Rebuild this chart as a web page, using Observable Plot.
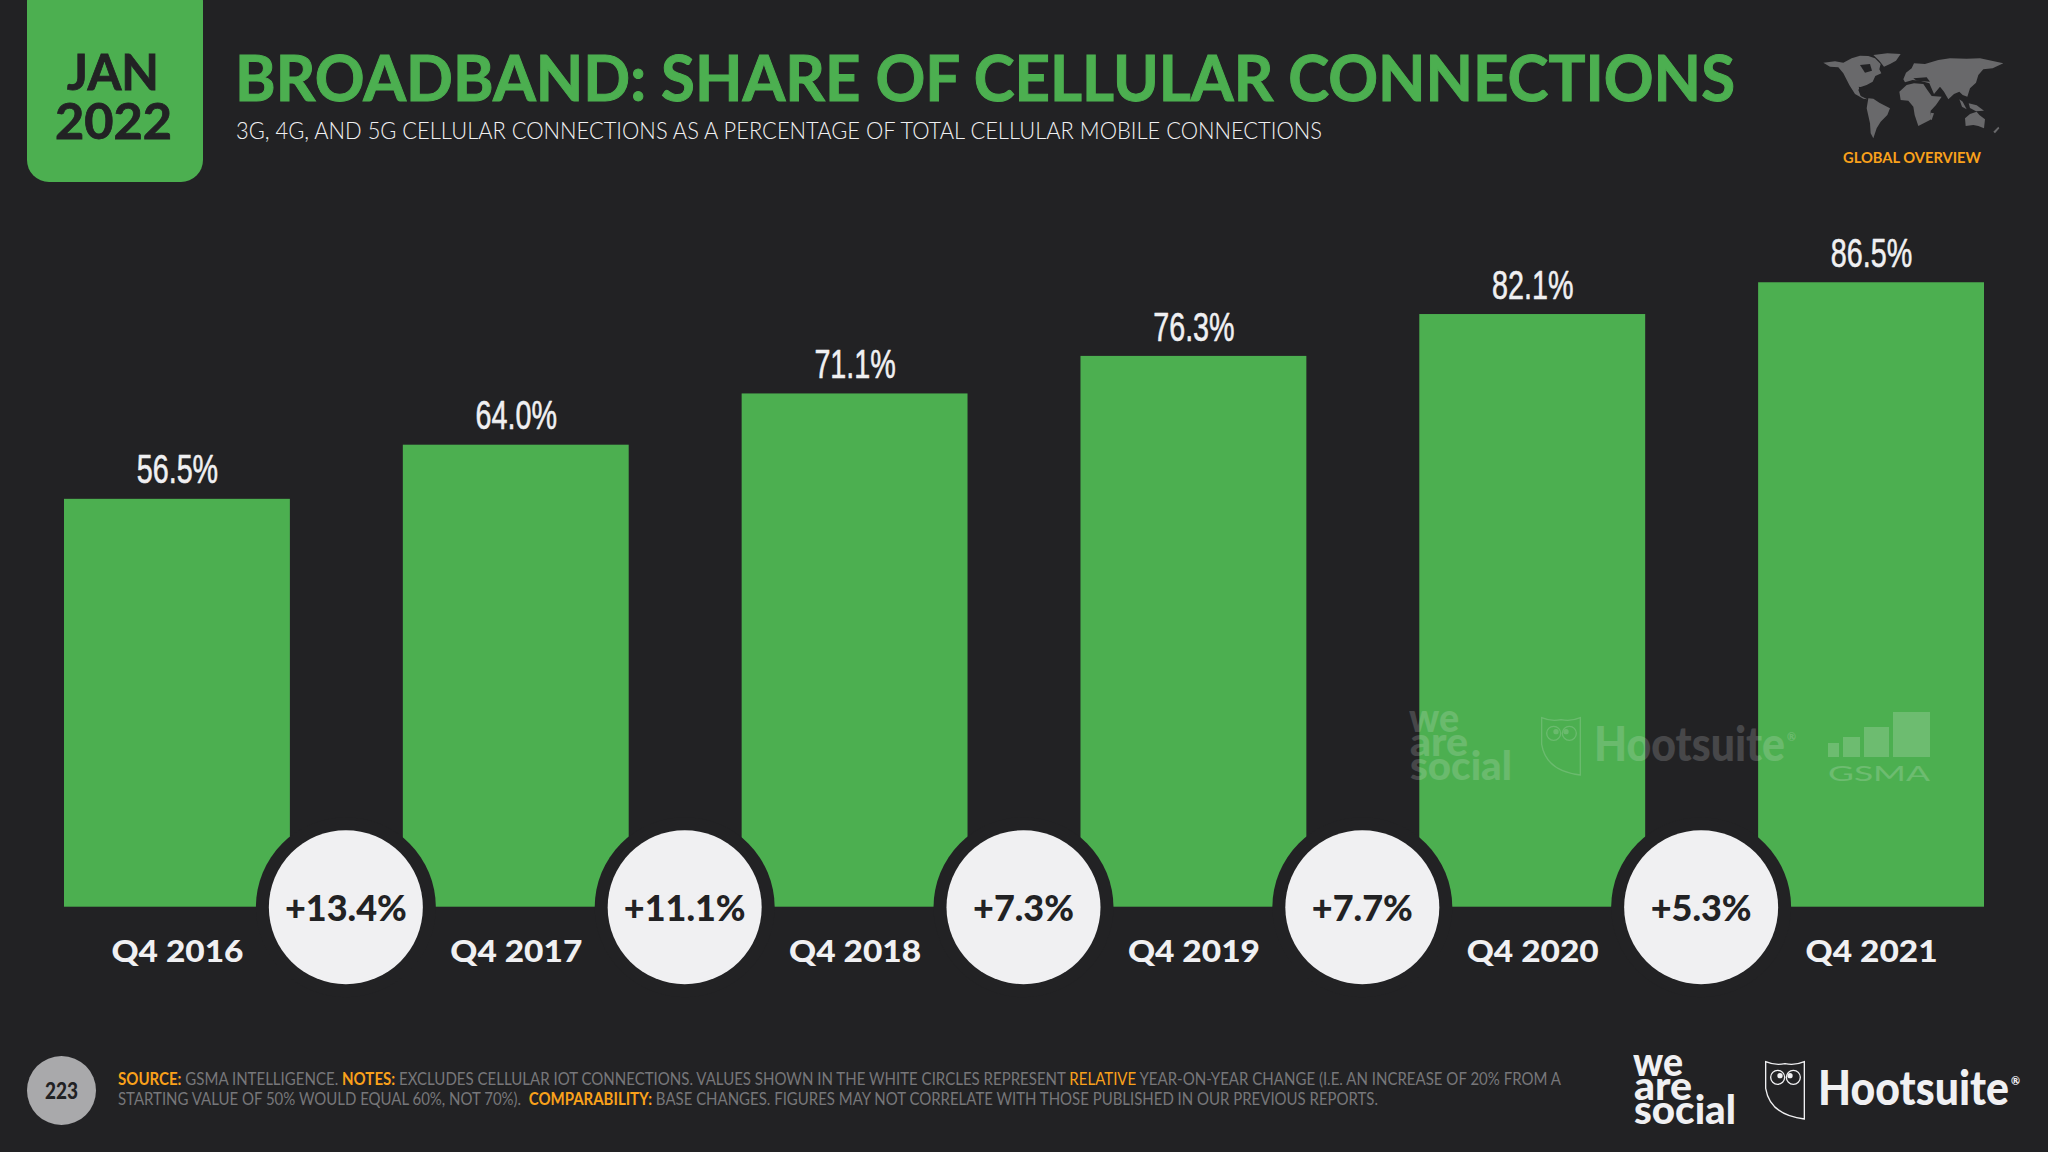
<!DOCTYPE html>
<html>
<head>
<meta charset="utf-8">
<script src="https://cdn.jsdelivr.net/npm/d3@7"></script>
<script src="https://cdn.jsdelivr.net/npm/@observablehq/plot@0.6"></script>
<style>
    html, body { margin: 0; background: #222224; }
    #page { position: relative; width: 2048px; height: 1152px; overflow: hidden; background: #222224; font-family: Lato, sans-serif; }
    #page svg { position: absolute; }
    .t { position: absolute; white-space: pre; line-height: 1; transform-origin: 0 0; }
    .o { color: #f9a11b; font-weight: 700; }
    .tab { position: absolute; left: 27px; top: -20px; width: 176px; height: 202px; background: #4caf50; border-radius: 22px; }
    .page-no { position: absolute; left: 27px; top: 1056px; width: 69px; height: 69px; border-radius: 50%; background: #a9a9ab; }
</style>
</head>
<body>
<div id="page">
    <div class="tab"></div>
    <div class="page-no"></div>
</div>
<script>
const categories = ['Q4 2016', 'Q4 2017', 'Q4 2018', 'Q4 2019', 'Q4 2020', 'Q4 2021'];
const shares = [56.5, 64.0, 71.1, 76.3, 82.1, 86.5];
const changes = [13.4, 11.1, 7.3, 7.7, 5.3];

const title = 'BROADBAND: SHARE OF CELLULAR CONNECTIONS';
const subtitle = '3G, 4G, AND 5G CELLULAR CONNECTIONS AS A PERCENTAGE OF TOTAL CELLULAR MOBILE CONNECTIONS';
const footLine1 = '<span class="o">SOURCE:</span> GSMA INTELLIGENCE. <span class="o">NOTES:</span> EXCLUDES CELLULAR IOT CONNECTIONS. VALUES SHOWN IN THE WHITE CIRCLES REPRESENT <span class="o" style="font-weight:400">RELATIVE</span> YEAR-ON-YEAR CHANGE (I.E. AN INCREASE OF 20% FROM A';
const footLine2 = 'STARTING VALUE OF 50% WOULD EQUAL 60%, NOT 70%).\u00a0 <span class="o">COMPARABILITY:</span> BASE CHANGES. FIGURES MAY NOT CORRELATE WITH THOSE PUBLISHED IN OUR PREVIOUS REPORTS.';

const page = document.getElementById('page');
const bg = '#222224';
const green = '#4caf50';
const light = '#f0f0f2';

const shareRows = categories.map((category, i) => ({ category, share: shares[i] }));
const changeRows = changes.map((change, i) => ({ category: categories[i], change, base: 0 }));
const halfStep = 1920 / (6 - 1 / 3) / 2 - 1;

const chart = Plot.plot({
    width: 2048,
    height: 840,
    marginTop: 0,
    marginLeft: 0,
    marginRight: 0,
    marginBottom: 123.3,
    style: { background: 'transparent', fontFamily: 'Lato, sans-serif', overflow: 'visible' },
    x: { domain: categories, range: [64, 1984], paddingInner: 1 / 3, paddingOuter: 0, round: false },
    y: { domain: [0, 90], range: [716.7, 67], axis: null },
    marks: [
        Plot.barY(shareRows, { x: 'category', y: 'share', fill: green }),
        Plot.text(shareRows, {
            x: 'category',
            y: 'share',
            text: d => d.share.toFixed(1) + '%',
            dy: -29,
            fontSize: 41,
            fill: light,
            stroke: light,
            strokeWidth: 0.6,
            fontFamily: '"Liberation Sans", sans-serif'
        }),
        Plot.dot(changeRows, { x: 'category', y: 'base', dx: halfStep, r: 90, fill: bg }),
        Plot.dot(changeRows, { x: 'category', y: 'base', dx: halfStep, r: 77, fill: light }),
        Plot.text(changeRows, {
            x: 'category',
            y: 'base',
            dx: halfStep,
            dy: 2,
            text: d => '+' + d.change.toFixed(1) + '%',
            fontSize: 36,
            fontWeight: 900,
            fill: bg
        }),
        Plot.axisX({ tickSize: 0, tickPadding: 33, label: null, fontSize: 31, fontWeight: 900, fill: light })
    ]
});
chart.style.left = '0px';
chart.style.top = '190px';
page.appendChild(chart);

// no condensed face installed, squeeze the figures; the tick labels are wider than Lato
d3.select(chart).selectAll('text').each(function () {
    const s = d3.select(this);
    const label = this.textContent;
    if (shares.some(v => v.toFixed(1) + '%' === label)) {
        s.attr('textLength', this.getComputedTextLength() * 0.7).attr('lengthAdjust', 'spacingAndGlyphs');
    } else if (categories.includes(label)) {
        s.attr('textLength', 132).attr('lengthAdjust', 'spacingAndGlyphs');
    }
});

// text block placed by baseline and squeezed to the width measured on the reference
function put(html, x, baseline, size, width, opts = {}) {
    const el = document.createElement('div');
    const lh = opts.lineHeight || 1;
    el.className = 't';
    el.innerHTML = html;
    el.style.fontSize = size + 'px';
    el.style.lineHeight = lh;
    el.style.fontWeight = opts.weight || 400;
    el.style.color = opts.color || light;
    if (opts.opacity) el.style.opacity = opts.opacity;
    if (opts.stroke) el.style.webkitTextStroke = opts.stroke;
    el.style.left = x + 'px';
    el.style.top = baseline - size * 0.85 + size * (1 - lh) / 2 + 'px';
    page.appendChild(el);
    const w = el.getBoundingClientRect().width;
    el.style.transform = `scaleX(${width / w})`;
    return el;
}

put('JAN', 67, 89, 49, 92, { weight: 700, color: bg, stroke: '0.8px ' + bg });
put('2022', 55, 138, 49, 117, { weight: 700, color: bg, stroke: '0.8px ' + bg });
put(title, 235, 99, 64, 1500, { weight: 700, color: green, stroke: '1px ' + green });
put(subtitle, 236, 139, 23, 1086, { weight: 300 });
put('GLOBAL OVERVIEW', 1843, 163, 15, 138, { weight: 700, color: '#f9a11b' });
put('223', 45, 1099, 23, 33, { weight: 900, color: bg });
put(footLine1, 118, 1085, 16.5, 1443, { color: '#77777a' });
put(footLine2, 118, 1105, 16.5, 1260, { color: '#77777a' });

// hand traced outline of the world map, in crop pixels
const mapParts = [
    'M40 68L75 64L100 68L125 55L150 47L175 48L195 55L212 72L208 88L214 100L196 108L188 125L170 135L150 142L145 150L152 168L172 178L160 176L135 162L118 135L100 100L85 82L60 80Z',
    'M190 45L232 40L272 42L258 62L240 72L222 80L208 62Z',
    'M175 175L190 176L208 188L240 205L232 225L212 245L200 265L190 295L182 280L180 250L170 205Z',
    'M290 135L312 130L340 132L352 150L365 168L395 170L378 195L362 212L360 240L325 258L314 225L310 200L295 182L272 180L268 155Z',
    'M280 118L288 98L305 85L312 70L345 72L385 60L420 55L470 56L510 55L580 70L548 85L520 88L505 105L498 128L480 145L472 170L458 165L448 155L432 162L415 178L402 155L390 140L372 162L358 130L330 122L308 120L285 127Z',
    'M448 178L456 200L470 208L458 185Z',
    'M476 190L500 196L522 212L498 214L480 204Z',
    'M465 235L480 222L500 215L508 225L525 238L522 265L505 258L490 255L467 258Z',
    'M362 218L372 220L365 240L358 238Z',
    'M550 275L565 260L568 265L555 280Z'
];
const holes = ['M150 75L180 72L186 92L165 98Z', 'M146 140L172 146L165 158L150 155Z', 'M310 115L350 112L360 125L320 122Z'];
const map = d3.select(page).append('svg')
    .attr('width', 210).attr('height', 110).attr('viewBox', '0 0 630 330')
    .style('left', '1810px').style('top', '40px');
map.selectAll('path.land').data(mapParts).join('path').attr('class', 'land').attr('d', d => d).attr('fill', '#69696b');
map.selectAll('path.hole').data(holes).join('path').attr('class', 'hole').attr('d', d => d).attr('fill', bg);

// we are social + Hootsuite logo, used in the footer and as the faint watermark
function logos(dx, dy, opacity) {
    const o = { weight: 900, opacity };
    const tight = { weight: 900, opacity, lineHeight: 0.58 };
    put('we', 1633 + dx, 1076 + dy, 40, 50, tight);
    put('are', 1634 + dx, 1100 + dy, 40, 58, tight);
    put('social', 1634 + dx, 1124 + dy, 40, 102, tight);
    put('Hootsuite', 1818 + dx, 1104 + dy, 47, 191, o);
    put('®', 2011 + dx, 1084 + dy, 11, 9, o);
    const owl = d3.select(page).append('svg')
        .attr('width', 200).attr('height', 90).attr('viewBox', '0 0 600 270')
        .style('left', 1620 + dx + 'px').style('top', 1045 + dy + 'px')
        .style('opacity', opacity);
    const line = { fill: 'none', stroke: light, 'stroke-width': 4 };
    const shield = owl.append('path').attr('d', 'M437 50Q465 62 495 56Q525 62 553 50L553 222Q450 210 437 130Z');
    const eyes = owl.selectAll('circle').data([473, 520]).join('circle').attr('cx', d => d).attr('cy', 97).attr('r', 21);
    Object.entries(line).forEach(([k, v]) => { shield.attr(k, v); eyes.attr(k, v); });
    owl.selectAll('circle.pupil').data([480, 510]).join('circle').attr('class', 'pupil')
        .attr('cx', d => d).attr('cy', 92).attr('r', 8).attr('fill', light);
}
logos(0, 0, 1);
logos(-224, -344, 0.18);

// GSMA watermark
const gsma = d3.select(page).append('svg')
    .attr('width', 110).attr('height', 50)
    .style('left', '1826px').style('top', '710px').style('opacity', 0.2);
gsma.selectAll('rect').data([[2, 33, 11], [17, 27, 17], [38, 17, 25], [67, 2, 37]]).join('rect')
    .attr('x', d => d[0]).attr('y', d => d[1]).attr('width', d => d[2]).attr('height', d => 47 - d[1])
    .attr('fill', light);
put('GSMA', 1828, 781, 22, 102, { opacity: 0.2 });
</script>
</body>
</html>
